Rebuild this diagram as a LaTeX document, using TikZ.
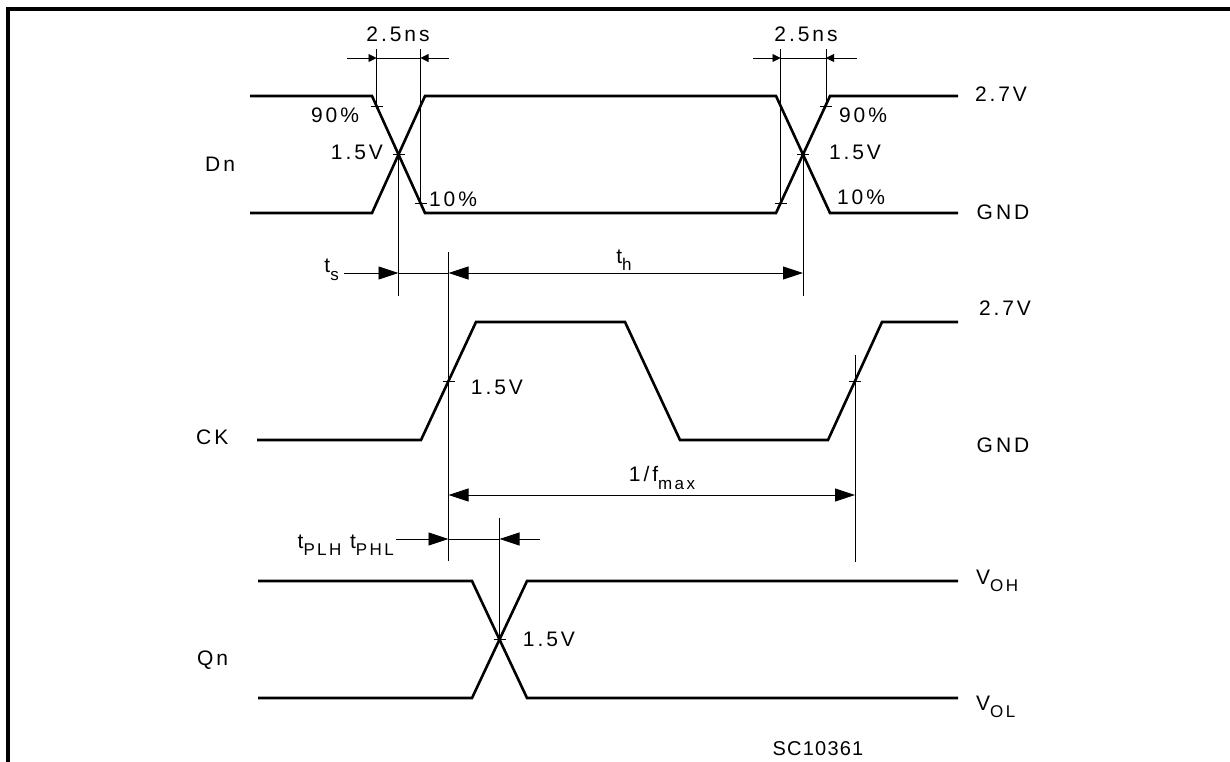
\documentclass[tikz,border=0pt]{standalone}
\usepackage{fontspec}
\setmainfont{Liberation Sans}[LetterSpace=14]
\usetikzlibrary{arrows.meta}

\newcommand{\lowtxt}[1]{\raisebox{-0.36em}{\fontsize{17}{17}\selectfont #1}}

\begin{document}
\begin{tikzpicture}
  [x=1pt,y=-1pt,>={Triangle[length=20pt,width=13pt]},
   sig/.style={line width=2.6pt,line join=miter},
   dim/.style={line width=0.9pt},
   smallarr/.style={dim,-{Triangle[length=8pt,width=8pt]}},
   lbl/.style={inner sep=0pt,font=\fontsize{21}{21}\selectfont}]
  \useasboundingbox (0,0) rectangle (1230,762);

  % frame
  \draw[line width=3.5pt] (8,764) -- (8,9) -- (1234,9);

  % waveforms
  \draw[sig] (250,96) -- (372,96) -- (425,213) -- (776,213) -- (830,96) -- (958,96);
  \draw[sig] (250,213) -- (372,213) -- (425,96) -- (776,96) -- (830,213) -- (958,213);
  \draw[sig] (257,440) -- (421,440) -- (476,322) -- (625,322) -- (680,440) -- (828,440) -- (882,322) -- (958,322);
  \draw[sig] (258,581) -- (472,581) -- (527,698) -- (958,698);
  \draw[sig] (258,698) -- (472,698) -- (527,581) -- (958,581);

  % crossing points and marks
  \coordinate (dxa) at (398.5,154.5);
  \coordinate (dxb) at (803,154.5);
  \coordinate (cka) at (448.5,381);
  \coordinate (ckb) at (855,381);
  \coordinate (qx)  at (499.5,639.5);
  \coordinate (t90a) at (376.5,106);
  \coordinate (t10a) at (420.5,203);
  \coordinate (t10b) at (780.5,203);
  \coordinate (t90b) at (826,106);

  \foreach \p in {dxa,dxb,cka,ckb,qx,t90a,t10a,t10b,t90b}
    \draw[dim] (\p) ++(-6,0) -- ++(12,0);

  % extension lines
  \coordinate (e90a) at (376.5,49);
  \coordinate (e10a) at (420.5,49);
  \coordinate (e10b) at (780.5,49);
  \coordinate (e90b) at (826,49);
  \coordinate (exa) at (398.5,296);
  \coordinate (exb) at (803,296);
  \coordinate (ckatop) at (448.5,252);
  \coordinate (ckabot) at (448.5,561);
  \coordinate (ckbtop) at (855,355);
  \coordinate (ckbbot) at (855,562);
  \coordinate (qxtop) at (499.5,518);

  \foreach \from/\to in {t90a/e90a, t10a/e10a, t10b/e10b, t90b/e90b, dxa/exa, dxb/exb,
                         ckatop/ckabot, ckbtop/ckbbot, qxtop/qx}
    \draw[dim] (\from) -- (\to);

  % 2.5ns dimensions
  \coordinate (wa0) at (347,58);
  \coordinate (wa1) at (376.5,58);
  \coordinate (wa2) at (420.5,58);
  \coordinate (wa3) at (449,58);
  \coordinate (wb0) at (753,58);
  \coordinate (wb1) at (780.5,58);
  \coordinate (wb2) at (826,58);
  \coordinate (wb3) at (857,58);
  \draw[smallarr] (wa0) -- (wa1);
  \draw[dim] (wa1) -- (wa2);
  \draw[smallarr] (wa3) -- (wa2);
  \draw[smallarr] (wb0) -- (wb1);
  \draw[dim] (wb1) -- (wb2);
  \draw[smallarr] (wb3) -- (wb2);

  % setup / hold
  \coordinate (hs0) at (344,273);
  \coordinate (hs1) at (398.5,273);
  \coordinate (hs2) at (448.5,273);
  \coordinate (hs3) at (803,273);
  \draw[dim,->] (hs0) -- (hs1);
  \draw[dim] (hs1) -- (hs2);
  \draw[dim,<->] (hs2) -- (hs3);

  % period
  \coordinate (pr0) at (448.5,495);
  \coordinate (pr1) at (855,495);
  \draw[dim,<->] (pr0) -- (pr1);

  % propagation delay
  \coordinate (pd0) at (396,539);
  \coordinate (pd1) at (448.5,539);
  \coordinate (pd2) at (499.5,539);
  \coordinate (pd3) at (540,539);
  \draw[dim,->] (pd0) -- (pd1);
  \draw[dim] (pd1) -- (pd2);
  \draw[dim,->] (pd3) -- (pd2);

  % labels
  \node[lbl] (wida) at (398,34) {2.5ns};
  \node[lbl] (widb) at (806,34) {2.5ns};
  \node[lbl] (p90a) at (335,115) {90\%};
  \node[lbl] (p90b) at (863,115) {90\%};
  \node[lbl] (v15a) at (357,152) {1.5V};
  \node[lbl] (v15b) at (855,152) {1.5V};
  \node[lbl] (p10a) at (453,199) {10\%};
  \node[lbl] (p10b) at (861,197) {10\%};
  \node[lbl] (dhi) at (1001,94) {2.7V};
  \node[lbl] (dlo) at (1003,212) {GND};
  \node[lbl] (chi) at (1005,308) {2.7V};
  \node[lbl] (clo) at (1003,445) {GND};
  \node[lbl] (v15c) at (497,387) {1.5V};
  \node[lbl] (v15d) at (549,639) {1.5V};
  \node[lbl,anchor=west] (dn) at (205,164) {Dn};
  \node[lbl,anchor=west] (ck) at (196,437) {CK};
  \node[lbl,anchor=west] (qn) at (197,660) {Qn};
  \node[lbl,anchor=west] (voh) at (976,581) {V\lowtxt{OH}};
  \node[lbl,anchor=west] (vol) at (976,707) {V\lowtxt{OL}};
  \node[lbl,anchor=east] (ts) at (339,270) {t\lowtxt{s}};
  \node[lbl] (th) at (624,260) {t\lowtxt{h}};
  \node[lbl] (fmax) at (662,478) {1/f\lowtxt{max}};
  \node[lbl,anchor=east] (tp) at (394,545) {t\lowtxt{PLH} t\lowtxt{PHL}};
  \node[lbl,font=\fontsize{20}{20}\selectfont\addfontfeatures{LetterSpace=6}] (code) at (818,749) {SC10361};

\end{tikzpicture}
\end{document}
